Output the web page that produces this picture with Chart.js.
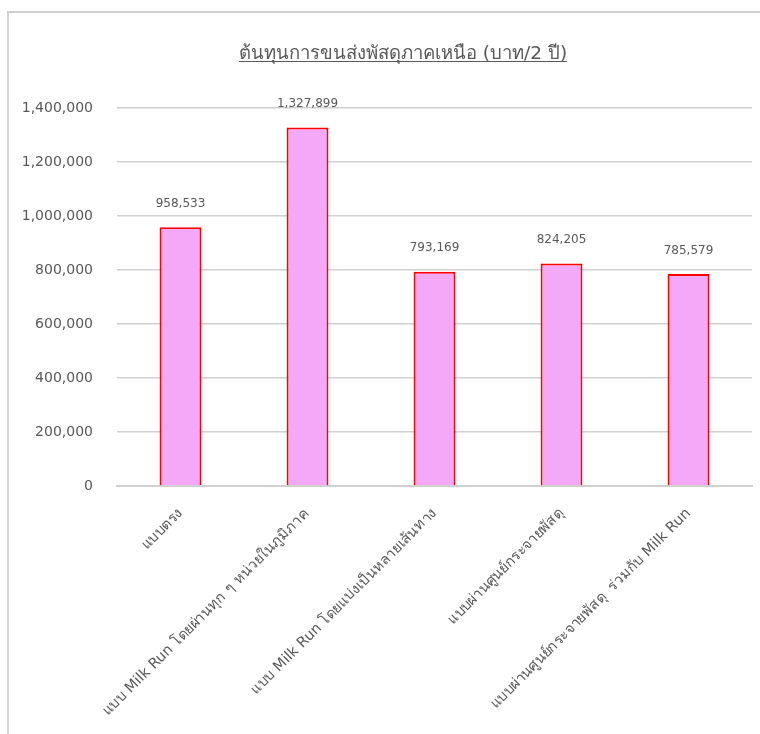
<!DOCTYPE html>
<html>
<head>
<meta charset="utf-8">
<script src="https://cdn.jsdelivr.net/npm/chart.js@4.4.1/dist/chart.umd.min.js"></script>
<style>
  body { margin: 0; background: #fff; }
  #frame { position: absolute; left: 7px; top: 11px; width: 800px; height: 800px; border: 2px solid #d0d0d0; box-sizing: border-box; }
  #wrap { position: absolute; left: 0; top: 0; width: 760px; height: 734px; }
</style>
</head>
<body>
<div id="frame"></div>
<div id="wrap"><canvas id="costChart"></canvas></div>
<script>
const titleText = 'ต้นทุนการขนส่งพัสดุภาคเหนือ (บาท/2 ปี)';
const categories = [
    'แบบตรง',
    'แบบ Milk Run โดยผ่านทุก ๆ หน่วยในภูมิภาค',
    'แบบ Milk Run โดยแบ่งเป็นหลายเส้นทาง',
    'แบบผ่านศูนย์กระจายพัสดุ',
    'แบบผ่านศูนย์กระจายพัสดุ  ร่วมกับ Milk Run'
];
const costs = [958533, 1327899, 793169, 824205, 785579];
const yTicks = [0, 200000, 400000, 600000, 800000, 1000000, 1200000, 1400000];

const FONT = "'DejaVu Sans', 'Noto Sans', sans-serif";
const GREY = '#595959';

// titolo sottolineato + etichette sopra le barre
const extras = {
    id: 'extras',
    afterDatasetsDraw(chart) {
        const ctx = chart.ctx;
        ctx.save();
        ctx.fillStyle = GREY;
        ctx.font = '12px ' + FONT;
        ctx.textAlign = 'center';
        ctx.textBaseline = 'middle';
        chart.getDatasetMeta(0).data.forEach((bar, i) => {
            ctx.fillText(costs[i].toLocaleString('en-US'), bar.x, bar.y - 23.5);
        });

        ctx.font = '18.5px ' + FONT;
        ctx.textBaseline = 'alphabetic';
        const cx = 403, base = 59;
        ctx.fillText(titleText, cx, base);
        const w = ctx.measureText(titleText).width;
        ctx.strokeStyle = GREY;
        ctx.lineWidth = 1.2;
        ctx.beginPath();
        ctx.moveTo(cx - w / 2, base + 2.5);
        ctx.lineTo(cx + w / 2, base + 2.5);
        ctx.stroke();
        ctx.restore();
    }
};

new Chart(document.getElementById('costChart'), {
    type: 'bar',
    data: {
        labels: categories,
        datasets: [{
            data: costs,
            backgroundColor: '#F4A9F8',
            borderColor: '#FF0000',
            borderWidth: 2,
            barPercentage: 0.33,
            categoryPercentage: 1
        }]
    },
    options: {
        responsive: true,
        maintainAspectRatio: false,
        animation: false,
        layout: { padding: { top: 108, right: 8, left: 0, bottom: 0 } },
        plugins: {
            legend: { display: false },
            title: { display: false },
            tooltip: { enabled: false }
        },
        scales: {
            x: {
                grid: { display: false, drawTicks: false },
                border: { color: '#d0d0d0', width: 2 },
                ticks: {
                    color: GREY,
                    font: { family: FONT, size: 14.5 },
                    minRotation: 45,
                    maxRotation: 45,
                    padding: 19
                },
                afterFit: s => { s.height = 248; }
            },
            y: {
                min: 0,
                max: 1400000,
                afterBuildTicks: s => { s.ticks = yTicks.map(v => ({ value: v })); },
                grid: { color: '#d0d0d0', lineWidth: 1.5, drawTicks: false },
                border: { display: false },
                ticks: {
                    color: GREY,
                    font: { family: FONT, size: 14 },
                    padding: 24,
                    callback: v => v.toLocaleString('en-US')
                },
                afterFit: s => { s.width = 117; }
            }
        }
    },
    plugins: [extras]
});
</script>
</body>
</html>
